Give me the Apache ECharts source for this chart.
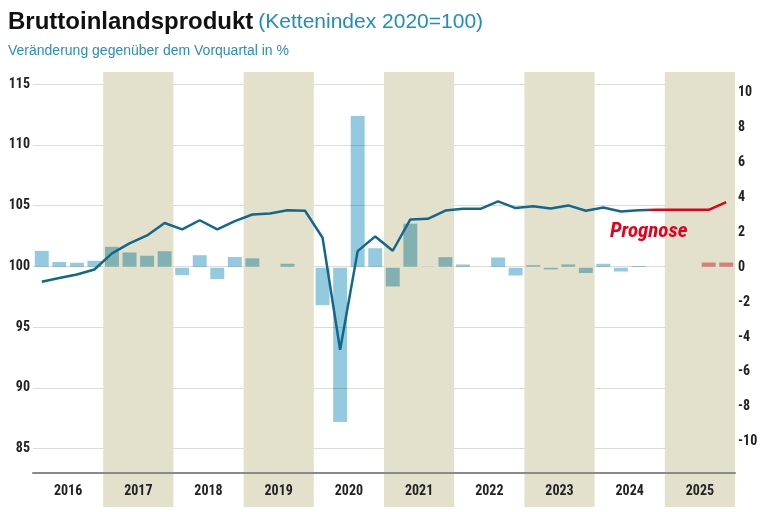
<!DOCTYPE html>
<html>
<head>
<meta charset="utf-8">
<script src="https://cdn.jsdelivr.net/npm/echarts@6/dist/echarts.min.js"></script>
<style>html,body{margin:0;padding:0;background:#fff}#c{width:768px;height:512px}</style>
</head>
<body>
<div id="c"></div>
<script>
var years = ['2016','2017','2018','2019','2020','2021','2022','2023','2024','2025'];
var quarterNames = ['Q1','Q2','Q3','Q4'];
// Kettenindex 2020=100 (left axis)
var indexValues = [98.74, 99.04, 99.34, 99.75, 101.07, 101.89, 102.55, 103.57, 103.05, 103.8,
  103.05, 103.73, 104.27, 104.35, 104.63, 104.58, 102.36, 93.14, 101.26, 102.47,
  101.29, 103.87, 103.92, 104.6, 104.74, 104.74, 105.35, 104.8, 104.96, 104.77,
  105.02, 104.58, 104.85, 104.52, 104.63, 104.66, 104.66, 104.66, 104.66, 105.3];
// Veränderung gegenüber Vorquartal in % (right axis)
var changeValues = [0.97, 0.33, 0.29, 0.40, 1.2, 0.88, 0.69, 0.95, -0.48, 0.72,
  -0.71, 0.62, 0.54, 0.06, 0.23, -0.05, -2.2, -8.9, 8.7, 1.12,
  -1.13, 2.53, 0.07, 0.61, 0.19, 0.03, 0.59, -0.5, 0.15, -0.15,
  0.19, -0.36, 0.23, -0.27, 0.1, 0.03, 0.03, 0.03, 0.3, 0.3];
var forecastStart = 35; // 2024 Q4
var leftTickStep = 5;
var rightTickStep = 2;

var quarters = [];
years.forEach(function (y) { quarterNames.forEach(function (q) { quarters.push(y + ' ' + q); }); });

var condFont = "'Roboto Condensed','Liberation Sans Narrow','DejaVu Sans Condensed',sans-serif";
var beige = '#e3e0cb';
var lineBlue = '#12688c';
var lineRed = '#e2001a';
var leftMin = 83, leftMax = 116;
var rightMin = -11.8, rightMax = 11.2;

function isStep(v, step) {
  var r = Math.round(v);
  return Math.abs(v - r) < 1e-6 && r % step === 0;
}
// split line colours: ticks every 1 from 83, show at multiples of 5
var leftSplitColors = [];
for (var k = 0; k < leftTickStep; k++) {
  leftSplitColors.push(isStep(leftMin + k, leftTickStep) ? '#dcdcd6' : 'rgba(0,0,0,0)');
}

var gradOffset = (forecastStart - 0.5) / (indexValues.length - 1);

var chart = echarts.init(document.getElementById('c'), null, {renderer: 'canvas'});

chart.setOption({
  animation: false,
  backgroundColor: '#fff',
  title: {
    left: 3, top: 5,
    text: '{a|Bruttoinlandsprodukt} {b|(Kettenindex 2020=100)}',
    subtext: 'Veränderung gegenüber dem Vorquartal in %',
    itemGap: 10,
    textStyle: {
      rich: {
        a: {fontFamily: "'Liberation Sans',Arial,sans-serif", fontWeight: 'bold', fontSize: 24, color: '#111'},
        b: {fontFamily: "'Liberation Sans',Arial,sans-serif", fontWeight: 'normal', fontSize: 21, color: '#1f8dbf'}
      }
    },
    subtextStyle: {fontFamily: "'Liberation Sans',Arial,sans-serif", fontSize: 14, color: '#2a8cbf'}
  },
  grid: [
    {left: 33, right: 33, top: 72, bottom: 39},
    {left: 33, right: 33, top: 473, bottom: 5}
  ],
  xAxis: [
    {type: 'category', gridIndex: 0, data: quarters, position: 'bottom',
     axisLine: {show: true, onZero: false, lineStyle: {color: '#8a8a8a', width: 2}},
     axisTick: {show: false}, axisLabel: {show: false}, splitLine: {show: false}},
    {type: 'category', gridIndex: 0, data: years, position: 'bottom', show: true,
     axisLine: {show: false, onZero: false}, axisTick: {show: false, interval: 0}, axisLabel: {show: false, interval: 0},
     splitLine: {show: false},
     splitArea: {show: true, interval: 0, areaStyle: {color: ['rgba(0,0,0,0)', beige]}}},
    {type: 'category', gridIndex: 1, data: years, position: 'top',
     axisLine: {show: false, onZero: false}, axisTick: {show: false, interval: 0},
     axisLabel: {show: true, interval: 0, margin: -25, fontFamily: condFont, fontWeight: 'bold', fontSize: 14, color: '#222'},
     splitLine: {show: false},
     splitArea: {show: true, interval: 0, areaStyle: {color: ['rgba(0,0,0,0)', beige]}}}
  ],
  yAxis: [
    {type: 'value', gridIndex: 0, position: 'left', min: leftMin, max: leftMax, interval: 1,
     axisLine: {show: false}, axisTick: {show: false},
     axisLabel: {margin: 3, fontFamily: condFont, fontWeight: 'bold', fontSize: 14, color: '#222',
       formatter: function (v) { return isStep(v, leftTickStep) ? String(Math.round(v)) : ''; }},
     splitLine: {show: true, lineStyle: {color: leftSplitColors, width: 1}}},
    {type: 'value', gridIndex: 0, position: 'right', min: rightMin, max: rightMax, interval: 0.2,
     axisLine: {show: false}, axisTick: {show: false},
     axisLabel: {margin: 3, fontFamily: condFont, fontWeight: 'bold', fontSize: 14, color: '#222',
       formatter: function (v) { return (isStep(v, rightTickStep) && Math.abs(v) <= 10) ? String(Math.round(v)) : ''; }},
     splitLine: {show: false}},
    {type: 'value', gridIndex: 1, show: false}
  ],
  series: [
    {type: 'bar', name: 'Veränderung', xAxisIndex: 0, yAxisIndex: 1, data: changeValues,
     barCategoryGap: '15%', blendMode: 'multiply', z: 2,
     itemStyle: {
       borderColor: 'rgba(255,255,255,0.6)', borderWidth: 1,
       color: function (p) { return p.dataIndex >= forecastStart ? '#f0909c' : '#93cadf'; }
     }},
    {type: 'line', name: 'Kettenindex', xAxisIndex: 0, yAxisIndex: 0, data: indexValues,
     symbol: 'none', z: 3,
     lineStyle: {width: 2.5, color: new echarts.graphic.LinearGradient(0, 0, 1, 0, [
       {offset: 0, color: lineBlue},
       {offset: gradOffset - 0.006, color: lineBlue},
       {offset: gradOffset + 0.006, color: lineRed},
       {offset: 1, color: lineRed}
     ])}}
  ],
  graphic: [
    {type: 'text', left: 610, top: 221, z: 10,
     style: {text: 'Prognose', fill: '#e2001a', fontFamily: condFont, fontStyle: 'italic', fontWeight: 'bold', fontSize: 21}}
  ]
});
</script>
</body>
</html>
